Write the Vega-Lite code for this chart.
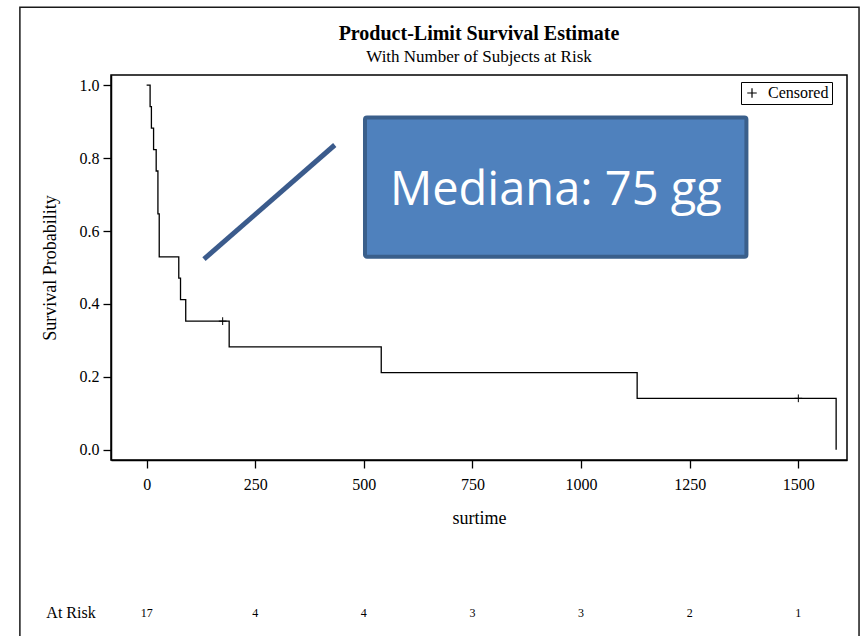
{
  "$schema": "https://vega.github.io/schema/vega-lite/v6.json",
  "autosize": {"type": "none"},
  "width": 736,
  "height": 385,
  "padding": {"left": 111, "top": 75, "right": 14, "bottom": 176},
  "background": "white",
  "datasets": {
    "km": [
      {"surtime": 0, "survival": 1.0},
      {"surtime": 8, "survival": 0.9412},
      {"surtime": 11, "survival": 0.8824},
      {"surtime": 16, "survival": 0.8235},
      {"surtime": 22, "survival": 0.7647},
      {"surtime": 26, "survival": 0.6471},
      {"surtime": 29, "survival": 0.5294},
      {"surtime": 74, "survival": 0.4706},
      {"surtime": 78, "survival": 0.4118},
      {"surtime": 90, "survival": 0.3529},
      {"surtime": 190, "survival": 0.2824},
      {"surtime": 540, "survival": 0.2118},
      {"surtime": 1129, "survival": 0.1412},
      {"surtime": 1587, "survival": 0.0}
    ],
    "cens": [
      {"surtime": 175, "survival": 0.3529, "status": "Censored"},
      {"surtime": 1500, "survival": 0.1412, "status": "Censored"}
    ],
    "risk": [
      {"surtime": 0, "atrisk": 17},
      {"surtime": 250, "atrisk": 4},
      {"surtime": 500, "atrisk": 4},
      {"surtime": 750, "atrisk": 3},
      {"surtime": 1000, "atrisk": 3},
      {"surtime": 1250, "atrisk": 2},
      {"surtime": 1500, "atrisk": 1}
    ],
    "one": [{"label": "Mediana: 75 gg", "risklabel": "At Risk", "title": "Product-Limit Survival Estimate", "subtitle": "With Number of Subjects at Risk"}]
  },
  "layer": [
    {
      "data": {"name": "one"},
      "mark": {"type": "rect", "fill": null, "stroke": "#1a1a1a", "strokeWidth": 1.5, "clip": false},
      "encoding": {
        "x": {"datum": -291.7, "type": "quantitative"},
        "x2": {"datum": 1639.7},
        "y": {"datum": 1.2137, "type": "quantitative"},
        "y2": {"datum": -0.52}
      }
    },
    {
      "data": {"name": "one"},
      "mark": {"type": "text", "font": "Liberation Serif", "fontSize": 20, "fontWeight": "bold", "color": "black", "align": "center", "baseline": "middle", "clip": false},
      "encoding": {
        "x": {"datum": 765, "type": "quantitative"},
        "y": {"datum": 1.1397, "type": "quantitative"},
        "text": {"field": "title"}
      }
    },
    {
      "data": {"name": "one"},
      "mark": {"type": "text", "font": "Liberation Serif", "fontSize": 17, "color": "black", "align": "center", "baseline": "middle", "clip": false},
      "encoding": {
        "x": {"datum": 765, "type": "quantitative"},
        "y": {"datum": 1.0767, "type": "quantitative"},
        "text": {"field": "subtitle"}
      }
    },
    {
      "data": {"name": "km"},
      "mark": {"type": "line", "interpolate": "step-after", "color": "black", "strokeWidth": 1.3, "clip": false},
      "encoding": {
        "x": {
          "field": "surtime", "type": "quantitative",
          "scale": {"domain": [-82, 1612], "nice": false, "zero": false},
          "axis": {
            "values": [0, 250, 500, 750, 1000, 1250, 1500],
            "format": "d",
            "title": "surtime",
            "titlePadding": 17,
            "titleFontSize": 18
          }
        },
        "y": {
          "field": "survival", "type": "quantitative",
          "scale": {"domain": [-0.028, 1.028], "nice": false, "zero": false},
          "axis": {
            "values": [0, 0.2, 0.4, 0.6, 0.8, 1.0],
            "format": ".1f",
            "title": "Survival Probability",
            "titlePadding": 20,
            "titleFontSize": 18
          }
        }
      }
    },
    {
      "data": {"name": "cens"},
      "mark": {"type": "point", "filled": false, "color": "black", "strokeWidth": 1, "size": 60, "opacity": 1},
      "encoding": {
        "x": {"field": "surtime", "type": "quantitative"},
        "y": {"field": "survival", "type": "quantitative"},
        "shape": {
          "field": "status", "type": "nominal",
          "scale": {"domain": ["Censored"], "range": ["M-1,0H1M0,-1V1"]},
          "legend": {
            "title": null,
            "orient": "none",
            "legendX": 630,
            "legendY": 7,
            "strokeColor": "black",
            "fillColor": "white",
            "padding": 3,
            "labelFont": "Liberation Serif",
            "labelFontSize": 16,
            "labelColor": "black",
            "labelOffset": 8,
            "symbolSize": 90,
            "symbolStrokeColor": "black",
            "symbolStrokeWidth": 1.2
          }
        }
      }
    },
    {
      "data": {"name": "one"},
      "mark": {"type": "rule", "color": "#3B5B8C", "strokeWidth": 5, "clip": false},
      "encoding": {
        "x": {"datum": 132, "type": "quantitative"},
        "x2": {"datum": 433},
        "y": {"datum": 0.523, "type": "quantitative"},
        "y2": {"datum": 0.836}
      }
    },
    {
      "data": {"name": "one"},
      "mark": {"type": "rect", "fill": "#4F81BD", "stroke": "#3A5F8B", "strokeWidth": 4, "cornerRadius": 2, "clip": false},
      "encoding": {
        "x": {"datum": 502.6, "type": "quantitative"},
        "x2": {"datum": 1380.5},
        "y": {"datum": 0.9115, "type": "quantitative"},
        "y2": {"datum": 0.5296}
      }
    },
    {
      "data": {"name": "one"},
      "mark": {"type": "text", "font": "Open Sans", "fontSize": 47, "color": "white", "align": "center", "baseline": "alphabetic", "clip": false},
      "encoding": {
        "x": {"datum": 942, "type": "quantitative"},
        "y": {"datum": 0.671, "type": "quantitative"},
        "text": {"field": "label"}
      }
    },
    {
      "data": {"name": "risk"},
      "mark": {"type": "text", "font": "Liberation Serif", "fontSize": 12, "color": "black", "align": "center", "baseline": "middle", "clip": false},
      "encoding": {
        "x": {"field": "surtime", "type": "quantitative"},
        "y": {"datum": -0.4466, "type": "quantitative"},
        "text": {"field": "atrisk", "type": "quantitative"}
      }
    },
    {
      "data": {"name": "one"},
      "mark": {"type": "text", "font": "Liberation Serif", "fontSize": 16, "color": "black", "align": "center", "baseline": "middle", "clip": false},
      "encoding": {
        "x": {"datum": -174, "type": "quantitative"},
        "y": {"datum": -0.4466, "type": "quantitative"},
        "text": {"field": "risklabel"}
      }
    }
  ],
  "config": {
    "view": {"stroke": "black", "strokeWidth": 1.5},
    "axis": {
      "grid": false,
      "domainColor": "black",
      "domainWidth": 1.5,
      "tickColor": "black",
      "tickWidth": 1.3,
      "tickSize": 8,
      "labelFont": "Liberation Serif",
      "labelFontSize": 16,
      "labelColor": "black",
      "labelPadding": 4,
      "titleFont": "Liberation Serif",
      "titleFontSize": 17,
      "titleFontWeight": "normal",
      "titleColor": "black"
    },
    "axisX": {"labelPadding": 8}
  }
}
